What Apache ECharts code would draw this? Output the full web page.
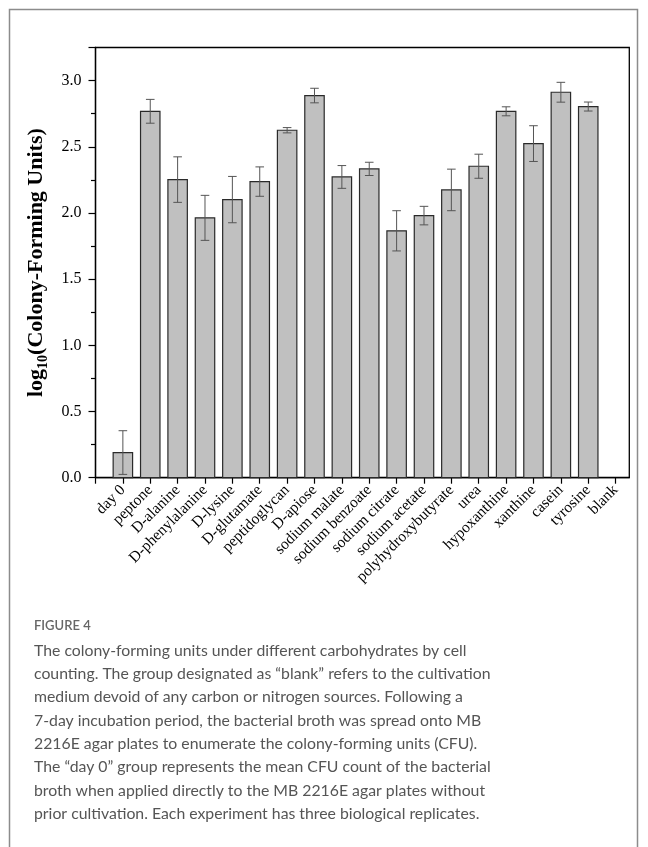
<!DOCTYPE html>
<html>
<head>
<meta charset="utf-8">
<script src="https://cdn.jsdelivr.net/npm/echarts@6/dist/echarts.min.js"></script>
<style>
html,body{margin:0;padding:0;background:#fff;}
#chart{width:648px;height:847px;}
</style>
</head>
<body>
<div id="chart"></div>
<script>
const categories = ['day 0','peptone','D-alanine','D-phenylalanine','D-lysine','D-glutamate','peptidoglycan','D-apiose','sodium malate','sodium benzoate','sodium citrate','sodium acetate','polyhydroxybutyrate','urea','hypoxanthine','xanthine','casein','tyrosine','blank'];
const means = [0.19,2.768,2.252,1.963,2.101,2.237,2.625,2.887,2.272,2.333,1.865,1.98,2.174,2.353,2.768,2.524,2.912,2.804,0];
const errors = [0.165,0.09,0.172,0.17,0.175,0.111,0.02,0.055,0.086,0.05,0.152,0.07,0.157,0.091,0.034,0.135,0.075,0.034,0];
const yTicks = ['0.0','0.5','1.0','1.5','2.0','2.5','3.0'];
const captionTitle = 'FIGURE 4';
const captionLines = [
 'The colony-forming units under different carbohydrates by cell',
 'counting. The group designated as \u201cblank\u201d refers to the cultivation',
 'medium devoid of any carbon or nitrogen sources. Following a',
 '7-day incubation period, the bacterial broth was spread onto MB',
 '2216E agar plates to enumerate the colony-forming units (CFU).',
 'The \u201cday 0\u201d group represents the mean CFU count of the bacterial',
 'broth when applied directly to the MB 2216E agar plates without',
 'prior cultivation. Each experiment has three biological replicates.'
];

const barData = categories.map((c,i)=>[i+1, means[i]]);
const errData = categories.map((c,i)=>[i+1, means[i]-errors[i], means[i]+errors[i]]);
const xTickVals = [0].concat(categories.map((c,i)=>i+1));
const xLabelVals = categories.map((c,i)=>i+1);

const chart = echarts.init(document.getElementById('chart'), null, {renderer:'canvas'});
const serif = '"Liberation Serif","Times New Roman",serif';

chart.setOption({
  animation:false,
  backgroundColor:'#fff',
  grid:{left:95.5, top:47.5, right:18.7, bottom:369.3, show:true, borderColor:'#000', borderWidth:1.3, containLabel:false},
  xAxis:{
    type:'value', min:0, max:categories.length+0.5, interval:1,
    splitLine:{show:false},
    axisLine:{show:true, onZero:false, lineStyle:{color:'#000', width:1.3}},
    axisTick:{show:true, length:6, lineStyle:{color:'#000', width:1.2}, customValues:xTickVals},
    axisLabel:{rotate:45, margin:10, fontFamily:serif, fontSize:15.5, color:'#000',
      customValues:xLabelVals,
      formatter:function(v){ return categories[Math.round(v)-1] || ''; }}
  },
  yAxis:{
    type:'value', min:0, max:3.25, interval:0.5,
    splitLine:{show:false},
    axisLine:{show:true, onZero:false, lineStyle:{color:'#000', width:1.3}},
    axisTick:{show:true, length:7, lineStyle:{color:'#000', width:1.2}},
    minorTick:{show:true, splitNumber:2, length:4.5, lineStyle:{color:'#000', width:1.2}},
    axisLabel:{margin:14, fontFamily:serif, fontSize:16, color:'#000',
      formatter:function(v){ const i = Math.round(v/0.5); return (Math.abs(v - i*0.5) < 1e-6 && yTicks[i]) ? yTicks[i] : ''; }},
    name:'{a|log}{s|10}{a|(Colony-Forming Units)}',
    nameLocation:'middle', nameGap:40,
    nameTextStyle:{
      rich:{
        a:{fontFamily:serif, fontWeight:'bold', fontSize:22, color:'#000', lineHeight:26, verticalAlign:'bottom'},
        s:{fontFamily:serif, fontWeight:'bold', fontSize:14, color:'#000', lineHeight:26, verticalAlign:'bottom', padding:[0,0,-3,0]}
      }
    }
  },
  series:[
    {
      type:'custom', name:'mean',
      data:barData,
      clip:false,
      renderItem:function(params, api){
        const x = api.value(0), v = api.value(1);
        if (!(v > 0)) return null;
        const p0 = api.coord([x, 0]);
        const p1 = api.coord([x, v]);
        const w = api.size([0.71, 0])[0];
        return {type:'rect', shape:{x:p0[0]-w/2, y:p1[1], width:w, height:p0[1]-p1[1]},
          style:{fill:'#c0c0c0', stroke:'#2a2a2a', lineWidth:1.2}};
      },
      z:2
    },
    {
      type:'custom', name:'error',
      data:errData,
      clip:false,
      renderItem:function(params, api){
        const x = api.value(0), lo = api.value(1), hi = api.value(2);
        if (!(hi > lo)) return null;
        const a = api.coord([x, lo]), b = api.coord([x, hi]);
        const cw = 4.3;
        const st = {stroke:'#555', lineWidth:1};
        return {type:'group', children:[
          {type:'line', shape:{x1:a[0], y1:a[1], x2:b[0], y2:b[1]}, style:st},
          {type:'line', shape:{x1:a[0]-cw, y1:a[1], x2:a[0]+cw, y2:a[1]}, style:st},
          {type:'line', shape:{x1:b[0]-cw, y1:b[1], x2:b[0]+cw, y2:b[1]}, style:st}
        ]};
      },
      z:3
    }
  ],
  graphic:[
    {type:'rect', shape:{x:9.5, y:9.5, width:628, height:900}, style:{fill:null, stroke:'#8c8c8c', lineWidth:1.5}, silent:true},
    {type:'text', left:34, top:619, style:{text:captionTitle, font:'600 13px Lato, "Open Sans", sans-serif', fill:'#666'}},
    {type:'text', left:34, top:639, style:{text:captionLines.join('\n'), font:'15.8px Lato, "Open Sans", sans-serif', lineHeight:23.3, fill:'#555'}}
  ]
});
</script>
</body>
</html>
